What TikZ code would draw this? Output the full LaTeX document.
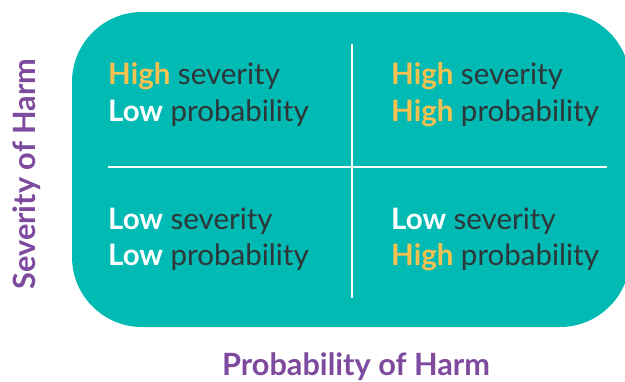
\documentclass[tikz,border=0pt]{standalone}
\usepackage{fontspec}
\setmainfont{Lato}
\definecolor{boxteal}{HTML}{00BAB3}
\definecolor{hilite}{HTML}{F6C14E}
\definecolor{plaintext}{HTML}{2E3638}
\definecolor{axispurple}{HTML}{7D4A9E}
\newcommand{\hi}[1]{{\bfseries\color{hilite}#1}}
\newcommand{\lo}[1]{{\bfseries\color{white}#1}}
\begin{document}
\begin{tikzpicture}[x=1pt,y=-1pt]
	\tikzstyle{every node}+=[inner sep=0pt]
	\tikzset{cell/.style={anchor=base west, text=plaintext, font=\fontsize{29.5}{34}\selectfont},
		axis/.style={anchor=base, text=axispurple, font=\fontsize{30.7}{36}\selectfont\bfseries}}
	\useasboundingbox (0,0) rectangle (625,381);
	\fill [boxteal, rounded corners=70pt] (72,12) rectangle (630,327);
	% dividers
	\draw [white, line width=2.5pt] (352,44) -- (352,298);
	\draw [white, line width=2.5pt] (108,167) -- (607,167);
	% quadrants
	\node (tlsev) [cell] at (108,84) {\hi{High} severity};
	\node (tlprob) [cell] at (108,121) {\lo{Low} probability};
	\node (trsev) [cell] at (391,84) {\hi{High} severity};
	\node (trprob) [cell] at (391,121) {\hi{High} probability};
	\node (blsev) [cell] at (108,229) {\lo{Low} severity};
	\node (blprob) [cell] at (108,265) {\lo{Low} probability};
	\node (brsev) [cell] at (391,229) {\lo{Low} severity};
	\node (brprob) [cell] at (391,265) {\hi{High} probability};
	% axes
	\node (severity) [axis, rotate=90] at (35,174) {Severity of Harm};
	\node (probability) [axis] at (356,375) {Probability of Harm};
\end{tikzpicture}
\end{document}
